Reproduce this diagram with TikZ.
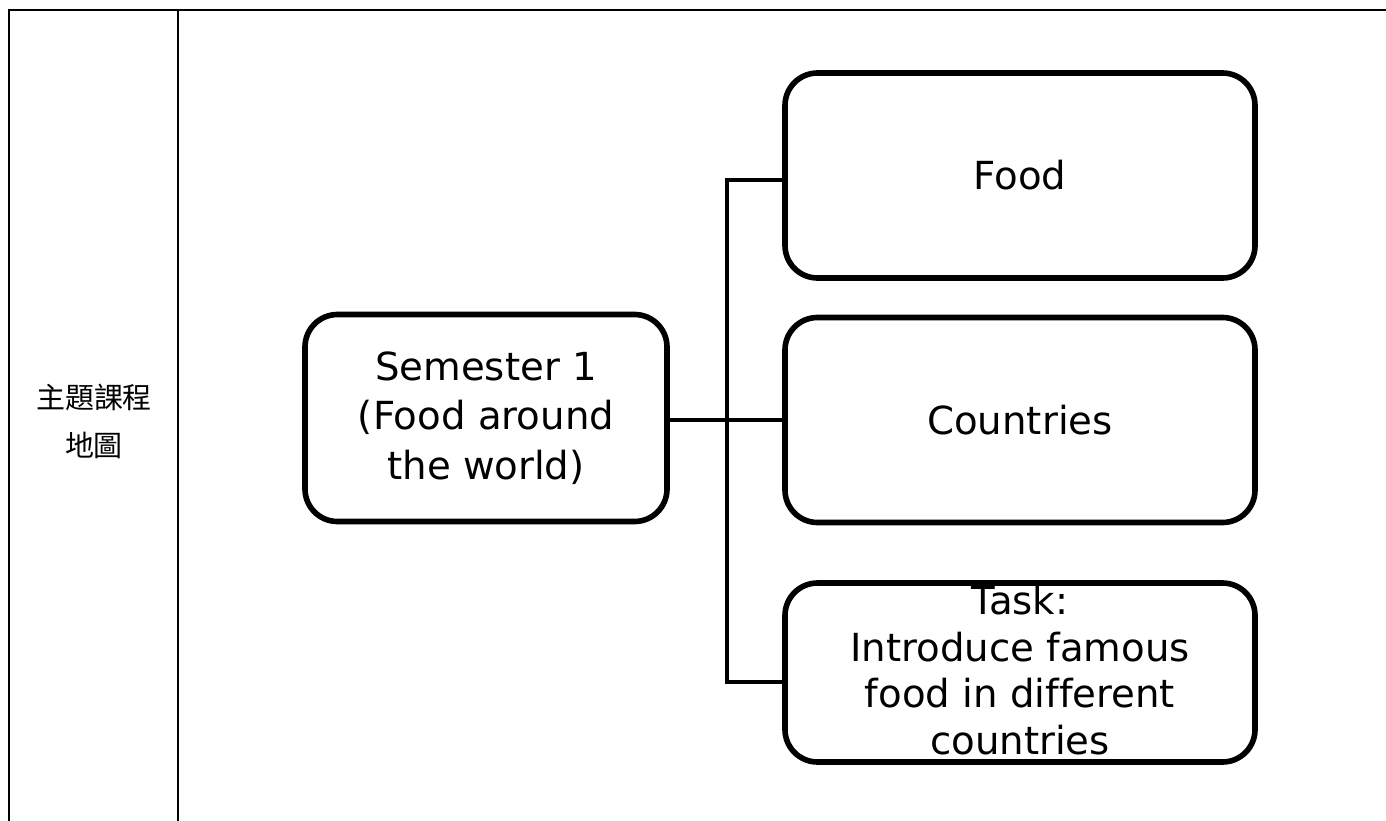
\documentclass[tikz,border=0pt]{standalone}
\usepackage{fontspec}
\setmainfont[Ligatures=NoCommon]{DejaVu Sans}
\newfontfamily\cjkfont{Noto Sans CJK TC}
\tikzset{
  topic/.style={draw, line width=3.2pt, rounded corners=6.5mm, align=center,
    inner sep=0pt, minimum width=94mm, font=\fontsize{22}{28}\selectfont},
  label/.style={align=center, inner sep=0pt, font=\fontsize{22}{26.5}\selectfont},
  link/.style={line width=2.3pt},
  frame/.style={line width=1pt}
}
\begin{document}
\begin{tikzpicture}[x=0.2mm,y=-0.2mm]
\useasboundingbox (0,0) rectangle (1386,821);
% table rules
\draw [frame] (1386,10) -- (9,10) -- (9,821);
\draw [frame] (178,10) -- (178,821);
\node (title) at (94,421) [align=center, font=\cjkfont\fontsize{16.5}{27.3}\selectfont] {主題課程\\地圖};
% boxes
\node (sem) at (486,418) [topic, minimum width=72.4mm, minimum height=41.4mm] {Semester 1\\(Food around\\the world)};
\node (food) at (1020,175.5) [topic, minimum height=41mm] {Food};
\node (ctry) at (1020,420) [topic, minimum height=41mm] {Countries};
\node (task) at (1020,672.5) [topic, minimum height=35.8mm] {};
\node (tasktext) at (1020,670) [label] {Task:\\Introduce famous\\food in different\\countries};
% connectors
\coordinate (jtop) at (727,180);
\coordinate (jbot) at (727,682);
\draw [link] (food.west |- jtop) -| (jbot) -- (task.west |- jbot);
\draw [link] (sem.east |- ctry) -- (ctry.west);
\end{tikzpicture}
\end{document}
